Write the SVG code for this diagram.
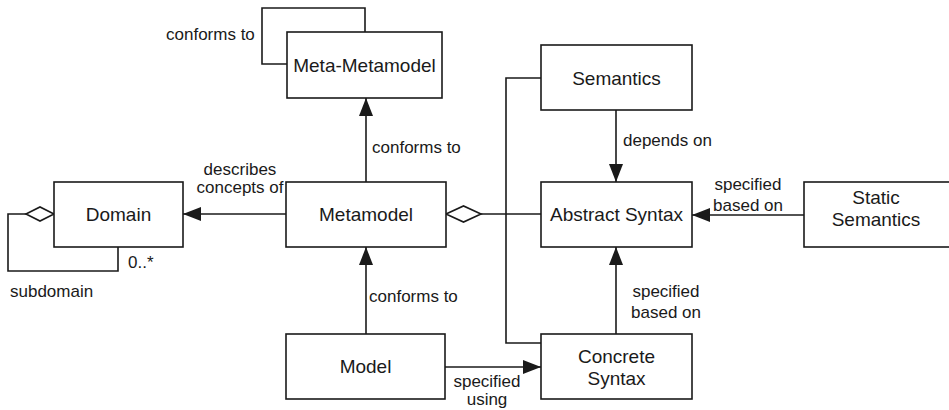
<svg xmlns="http://www.w3.org/2000/svg" width="949" height="410" viewBox="0 0 949 410">
  <style>
    .box { fill: #ffffff; stroke: #1a1a1a; stroke-width: 1.6; }
    .line { fill: none; stroke: #1a1a1a; stroke-width: 1.6; }
    .diamond { fill: #ffffff; stroke: #1a1a1a; stroke-width: 1.6; }
    .name { font-family: "Liberation Sans", Arial, sans-serif; font-size: 19px; fill: #1a1a1a; text-anchor: middle; }
    .label { font-family: "Liberation Sans", Arial, sans-serif; font-size: 17px; fill: #1a1a1a; }
  </style>
  <defs>
    <marker id="arrow" viewBox="0 0 18 14" refX="18" refY="7" markerWidth="18" markerHeight="14" markerUnits="userSpaceOnUse" orient="auto">
      <path d="M0,0 L18,7 L0,14 Z" fill="#1a1a1a"/>
    </marker>
  </defs>

  <!-- connectors -->
  <g id="connectors">
    <!-- Meta-Metamodel self conformance loop -->
    <polyline class="line" points="365,32 365,8 262,8 262,64 287,64"/>
    <!-- Metamodel conforms to Meta-Metamodel -->
    <line class="line" x1="366" y1="182" x2="366" y2="98" marker-end="url(#arrow)"/>
    <!-- Model conforms to Metamodel -->
    <line class="line" x1="366" y1="334" x2="366" y2="247" marker-end="url(#arrow)"/>
    <!-- Metamodel describes concepts of Domain -->
    <line class="line" x1="286" y1="214" x2="183" y2="214" marker-end="url(#arrow)"/>
    <!-- Domain subdomain aggregation -->
    <polyline class="line" points="118,247 118,271 8,271 8,214 26,214"/>
    <polygon class="diamond" points="26,214 40,207 54,214 40,221"/>
    <!-- Metamodel aggregates Abstract Syntax / Semantics / Concrete Syntax -->
    <line class="line" x1="481" y1="214" x2="541" y2="214"/>
    <polygon class="diamond" points="446,214 463.5,206 481,214 463.5,222"/>
    <polyline class="line" points="541,78 506,78 506,343 541,343"/>
    <!-- Semantics depends on Abstract Syntax -->
    <line class="line" x1="616" y1="110" x2="616" y2="182" marker-end="url(#arrow)"/>
    <!-- Static Semantics specified based on Abstract Syntax -->
    <line class="line" x1="804" y1="215" x2="692" y2="215" marker-end="url(#arrow)"/>
    <!-- Concrete Syntax specified based on Abstract Syntax -->
    <line class="line" x1="616" y1="334" x2="616" y2="247" marker-end="url(#arrow)"/>
    <!-- Model specified using Concrete Syntax -->
    <line class="line" x1="445" y1="367" x2="541" y2="367" marker-end="url(#arrow)"/>

    <text class="label" x="166" y="40">conforms to</text>
    <text class="label" x="372" y="153">conforms to</text>
    <text class="label" x="369" y="302">conforms to</text>
    <text class="label" x="240" y="175" text-anchor="middle">describes</text>
    <text class="label" x="240" y="193" text-anchor="middle">concepts of</text>
    <text class="label" x="128" y="268">0..*</text>
    <text class="label" x="10" y="297">subdomain</text>
    <text class="label" x="623" y="146">depends on</text>
    <text class="label" x="748" y="190" text-anchor="middle">specified</text>
    <text class="label" x="748" y="211" text-anchor="middle">based on</text>
    <text class="label" x="666" y="297" text-anchor="middle">specified</text>
    <text class="label" x="666" y="318" text-anchor="middle">based on</text>
    <text class="label" x="487" y="387" text-anchor="middle">specified</text>
    <text class="label" x="487" y="405" text-anchor="middle">using</text>
  </g>

  <g id="meta-metamodel">
    <rect class="box" x="287" y="32" width="155" height="66"/>
    <text class="name" x="364.5" y="72">Meta-Metamodel</text>
  </g>

  <g id="domain">
    <rect class="box" x="54" y="182" width="129" height="65"/>
    <text class="name" x="118.5" y="221">Domain</text>
  </g>

  <g id="metamodel">
    <rect class="box" x="286" y="182" width="160" height="65"/>
    <text class="name" x="366" y="221">Metamodel</text>
  </g>

  <g id="semantics">
    <rect class="box" x="541" y="45" width="151" height="65"/>
    <text class="name" x="616.5" y="85">Semantics</text>
  </g>

  <g id="abstract-syntax">
    <rect class="box" x="541" y="182" width="151" height="65"/>
    <text class="name" x="616.5" y="221">Abstract Syntax</text>
  </g>

  <g id="static-semantics">
    <rect class="box" x="804" y="182" width="160" height="65"/>
    <text class="name" x="876" y="204">Static</text>
    <text class="name" x="876" y="226">Semantics</text>
  </g>

  <g id="model">
    <rect class="box" x="286" y="334" width="159" height="65"/>
    <text class="name" x="365.5" y="373">Model</text>
  </g>

  <g id="concrete-syntax">
    <rect class="box" x="541" y="334" width="151" height="65"/>
    <text class="name" x="616.5" y="363">Concrete</text>
    <text class="name" x="616.5" y="385">Syntax</text>
  </g>
</svg>
